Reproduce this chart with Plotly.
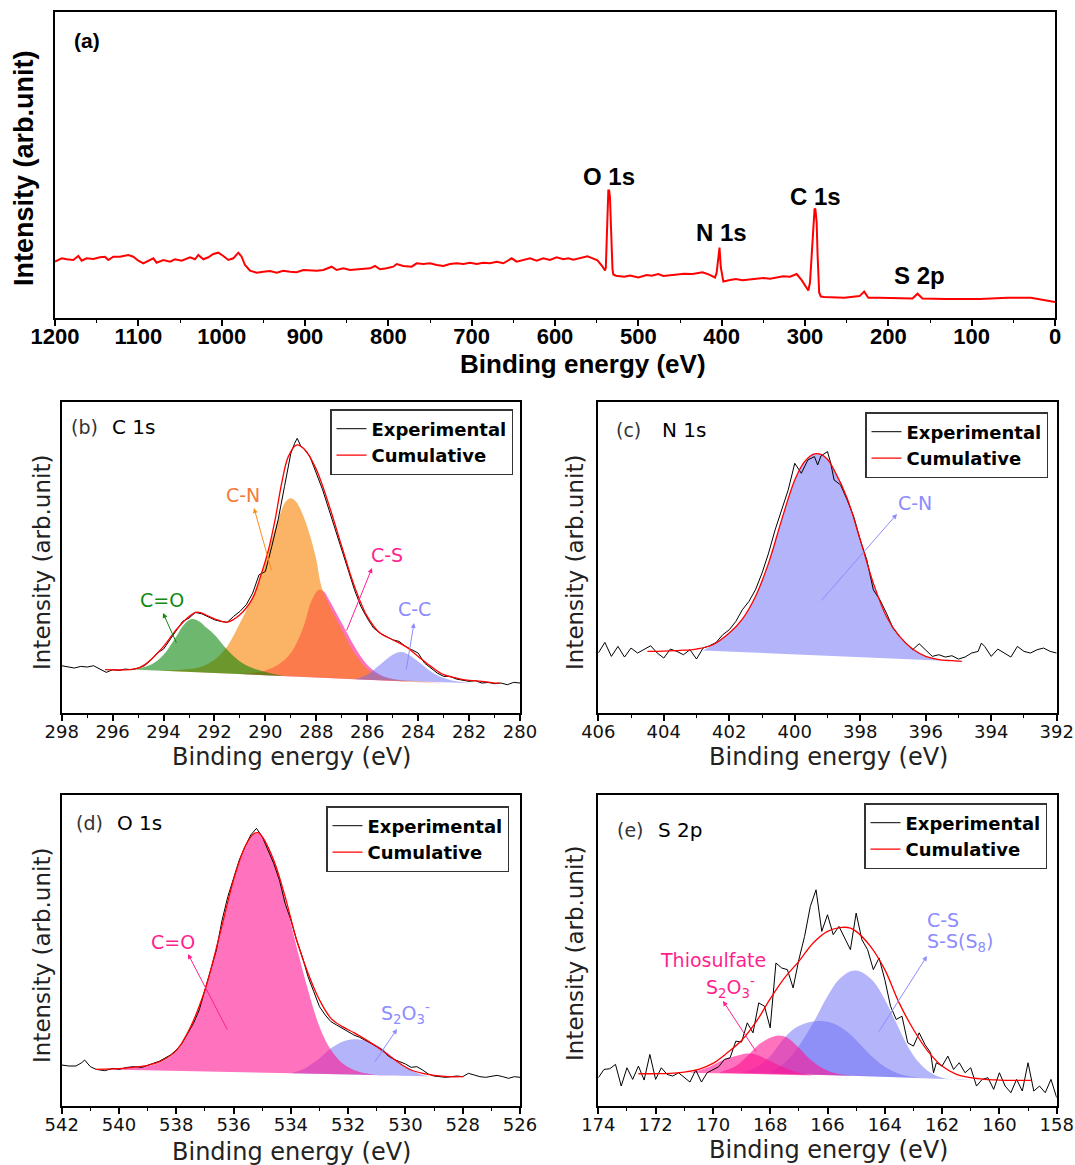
import plotly.graph_objects as go

W, H = 1075, 1165

# ---------------- Panel (a): survey spectrum ----------------
survey_be = [1200,1198,1192,1186,1178,1172,1168,1162,1154,1146,
             1140,1136,1130,1122,1112,1106,1100,1094,1088,1082,
             1078,1070,1062,1056,1048,1038,1032,1028,1022,1016,
             1010,1004,998,992,986,980,976,972,966,958,
             950,942,934,926,918,910,902,894,886,878,
             868,862,854,846,834,822,816,810,802,794,
             790,782,772,766,758,750,742,734,726,718,
             710,702,694,686,678,670,662,652,646,638,
             630,622,614,606,598,590,584,
             578,561,557,549,543,540,
             539,538,537,536,535,534,533,532,531,530,
             527,517,510,500,490,484,476,470,456,445,435,428,423,415,
             408,406,404,402.6,401,399.5,398,
             390,383,375,366,358,350,342,334,326,318,314,310,304,300,
             296,294,292,290,288.5,287.5,286,285,284,283,281,
             277,253,234.5,229,224,212,192,171,165,159,131,90,57,29,17,1,0]
survey_int = [56,56.8,59.2,58.2,57.5,61.5,56.8,59.2,58.5,60.2,
              60.8,57.5,60.8,60.8,62.5,60.8,56.8,54.2,56.8,59.2,
              54.8,57.5,55.8,58.2,56.8,60.2,58.2,62.5,58.2,60.2,
              63.5,64.8,61.5,57.5,59.2,64.8,60.8,52.5,46.8,44.8,
              45.8,46.5,44.8,46.8,45.8,45.2,47.5,46.8,46.8,47.5,
              50.8,47.5,49.2,47.5,48.2,49.2,51.5,48.2,49.2,50.8,
              53.5,51.5,50.8,54.2,53.5,54.2,52.5,51.5,53.5,54.2,
              53.5,54.8,53.5,54.8,54.2,55.8,54.2,59.2,55.8,57.5,
              59.2,56.8,59.2,57.5,60.2,58.2,59.2,
              57.8,61.2,59.9,57.1,51,46.9,
              50,75,110,127,127,120,95,65,48,43,
              41.8,40.8,42,40.1,42.5,41.8,43.5,41.5,42.9,43.8,43.5,44.5,45.2,42.9,
              40,45,62,70,50,40,36,
              37.5,38.4,37.2,38.1,39.2,39.5,38.8,40.1,41.2,40.8,42,43.5,37.4,31.6,
              27,35,65,100,109,108,95,65,40,25,21,
              20.4,19.7,21.4,25.9,19.7,19.7,19.7,19,23.8,19,18.4,18.4,19.7,19.7,18,15.6,15.5]
survey_ticks = [1200,1100,1000,900,800,700,600,500,400,300,200,100,0]

# ---------------- Panel (b): C 1s ----------------
c1s_be = [298.0,297.75,297.5,297.25,297.0,296.75,296.5,296.25,296.0,295.75,295.5,295.25,295.0,294.75,
          294.5,294.25,294.0,293.75,293.5,293.25,293.0,292.75,292.5,292.25,292.0,291.75,291.5,291.25,
          291.0,290.75,290.5,290.25,290.0,289.75,289.5,289.25,289.0,288.85,288.75,288.6,288.5,288.25,
          288.0,287.75,287.5,287.25,287.0,286.75,286.5,286.25,286.0,285.75,285.5,285.25,285.0,284.75,
          284.5,284.25,284.0,283.75,283.5,283.25,283.0,282.75,282.5,282.25,282.0,281.75,281.5,281.25,
          281.0,280.75,280.5,280.25,280.0]
c1s_exp = [142,138,135,140,138,142,132,122,130,128,132,130,135,142,158,180,192,220,245,275,
           285,302,298,290,280,275,272,290,305,325,360,415,425,500,580,680,780,810,825,800,
           795,770,720,670,610,550,490,430,370,320,285,255,240,230,220,215,200,190,180,150,
           135,120,110,110,102,98,95,97,90,92,88,90,85,92,90]
c1s_cum_be = [296.3,295.0,294.5,294.0,293.5,293.0,292.7,292.5,292.0,291.5,291.0,290.5,290.15,289.88,
              289.62,289.36,289.1,288.77,288.44,288.05,287.79,287.4,287.0,286.5,286.0,285.5,285.0,
              284.5,284.0,283.5,283.0,282.5,282.0,281.5,281.0,280.8]
c1s_cum = [130,135,160,200,250,290,303,300,283,273,295,345,420,490,580,690,770,805,790,740,
           690,600,500,380,290,240,220,200,170,140,115,105,98,95,90,90]
c1s_co_be = [295.2,294.5,294.0,293.5,293.2,292.9,292.6,292.3,292.0,291.5,291.0,290.5,290.0,289.3]
c1s_co = [131,145,175,230,265,282,275,255,235,190,155,135,123,111]
c1s_cn_be = [295.0,294.0,293.0,292.5,292.0,291.5,291.0,290.5,290.0,289.5,289.2,289.0,288.8,288.5,
             288.2,288.0,287.8,287.5,287.0,286.5,286.0,285.5,285.0,284.0,283.0]
c1s_cn = [130,128,132,140,160,200,270,350,460,580,635,645,635,590,520,460,380,325,250,180,132,112,102,95,90]
c1s_cs_be = [291.0,290.5,290.0,289.5,289.0,288.5,288.2,287.9,287.7,287.5,287.0,286.5,286.0,285.5,
             285.0,284.5,284.0,283.0]
c1s_cs = [117,120,128,145,180,260,335,370,365,340,270,200,145,115,102,96,92,89]
c1s_cc_be = [286.5,286.0,285.5,285.0,284.7,284.5,284.0,283.5,283.0,282.5,282.0,281.5,281.0]
c1s_cc = [101,115,145,175,183,180,155,125,105,95,90,88,87]

# ---------------- Panel (c): N 1s ----------------
n1s_be = [406.0,405.8,405.6,405.4,405.2,405.0,404.8,404.6,404.4,404.2,404.0,403.8,403.6,403.4,403.2,
          403.0,402.8,402.6,402.4,402.2,402.0,401.8,401.6,401.4,401.2,401.0,400.8,400.6,400.4,400.2,
          400.0,399.8,399.6,399.4,399.3,399.2,399.0,398.9,398.8,398.6,398.4,398.2,398.0,397.8,397.6,
          397.4,397.2,397.0,396.8,396.6,396.4,396.2,396.0,395.8,395.6,395.4,395.2,395.0,394.8,394.6,
          394.4,394.3,394.2,394.0,393.8,393.6,393.4,393.2,393.0,392.8,392.6,392.4,392.2,392.0]
n1s_exp = [180,212,170,200,168,195,180,192,202,180,165,192,185,175,190,162,195,202,212,235,
           250,275,310,335,370,420,480,550,610,670,750,720,760,770,745,772,785,750,700,685,
           640,590,520,460,370,340,300,255,230,210,190,208,190,170,175,168,172,162,168,180,
           185,210,200,170,192,180,168,200,185,180,190,195,185,180]
n1s_cum_be = [404.5,404.0,403.5,403.0,402.5,402.0,401.6,401.2,400.8,400.4,400.0,399.7,399.4,399.2,
              399.0,398.8,398.4,398.0,397.6,397.2,396.8,396.4,396.0,395.6,395.2,394.9]
n1s_cum = [185,186,188,192,205,240,282,350,450,580,700,755,778,777,762,730,645,520,390,290,
           230,192,170,160,157,155]
n1s_cn_be = [402.8,402.5,402.0,401.6,401.2,400.8,400.4,400.0,399.7,399.4,399.2,399.0,398.8,398.4,
             398.0,397.6,397.2,396.8,396.4,396.0,395.6,395.2,394.9]
n1s_cn = [188,205,240,282,350,450,580,700,755,778,777,762,730,645,520,390,290,230,192,170,160,157,155]

# ---------------- Panel (d): O 1s ----------------
o1s_be = [542.0,541.75,541.5,541.3,541.2,541.0,540.8,540.5,540.2,540.0,539.7,539.5,539.2,539.0,
          538.8,538.6,538.4,538.2,538.0,537.8,537.6,537.4,537.2,537.0,
          536.8,536.6,536.4,536.2,536.0,535.8,535.6,535.4,535.2,535.0,
          534.8,534.6,534.4,534.2,534.0,533.8,533.6,533.4,533.2,533.0,
          532.8,532.6,532.4,532.2,532.0,531.8,531.6,531.4,531.2,531.0,
          530.8,530.6,530.4,530.2,530.0,529.8,529.6,529.4,529.2,529.0,
          528.8,528.6,528.4,528.2,528.0,527.8,527.6,527.4,527.2,527.0,
          526.8,526.6,526.4,526.2,526.0]
o1s_exp = [123,120,120,130,138,118,110,106,113,110,116,118,116,123,
           128,134,143,153,168,188,218,248,288,348,
           408,468,558,628,683,738,778,813,833,808,
           768,728,678,608,558,498,448,388,343,298,
           273,253,243,233,223,213,206,198,188,178,
           168,150,140,133,126,116,118,108,96,90,
           88,86,88,90,88,98,93,88,86,90,
           92,88,83,88,86]
o1s_cum_be = [540.8,540.0,539.5,539.0,538.5,538.0,537.5,537.0,536.5,536.0,535.6,535.3,535.15,535.0,
              534.6,534.2,533.8,533.4,533.0,532.6,532.2,531.8,531.4,531.0,530.6,530.2,529.8,529.4,
              529.0,528.5,528.0]
o1s_cum = [110,112,116,122,136,166,238,348,508,678,778,816,820,808,738,628,498,398,318,263,
           238,220,200,178,153,128,108,98,92,88,88]
o1s_co_be = [540.8,540.0,539.0,538.5,538.0,537.5,537.0,536.5,536.0,535.6,535.3,535.15,535.0,534.6,
             534.2,533.8,533.4,533.0,532.6,532.2,531.8,531.4,531.0,530.5]
o1s_co = [110,112,120,133,163,233,343,503,673,773,813,818,808,738,618,478,348,238,168,128,108,98,93,92]
o1s_s2o3_be = [534.0,533.5,533.0,532.6,532.2,531.8,531.4,531.0,530.6,530.2,529.8,529.4,529.0,528.6]
o1s_s2o3 = [98,113,143,173,193,200,196,183,158,128,108,93,88,88]

# ---------------- Panel (e): S 2p ----------------
s2p_be = [174.0,173.8,173.6,173.4,173.2,173.0,172.8,172.6,172.4,172.2,
          172.0,171.8,171.6,171.4,171.2,171.0,170.8,170.6,170.4,170.2,
          170.0,169.8,169.6,169.4,169.2,169.0,168.8,168.6,168.4,168.2,
          168.0,167.8,167.6,167.4,167.2,167.0,166.8,166.6,166.4,166.2,
          166.0,165.8,165.6,165.4,165.2,165.0,164.8,164.6,164.4,164.2,
          164.0,163.8,163.6,163.4,163.2,163.0,162.8,162.6,162.4,162.3,
          162.2,162.0,161.8,161.6,161.4,161.2,161.0,160.8,160.6,160.4,
          160.2,160.0,159.8,159.6,159.4,159.2,159.0,158.8,158.6,158.4,158.2,158.0]
s2p_exp = [85,110,112,125,60,115,80,120,78,155,
           80,115,95,90,100,85,72,108,72,100,
           110,118,140,145,195,192,250,220,310,300,
           235,430,415,410,355,440,510,600,650,525,
           575,515,540,505,470,580,500,470,410,445,
           380,300,260,270,190,180,220,185,160,100,
           130,120,150,110,130,100,115,60,80,85,
           50,100,60,40,80,45,130,45,60,40,80,25]
s2p_cum_be = [172.6,172.0,171.5,171.0,170.5,170.0,169.5,169.0,168.5,168.0,167.5,167.0,166.5,166.0,
              165.5,165.2,165.0,164.5,164.0,163.5,163.0,162.5,162.0,161.5,161.0,160.5,160.0,159.5,158.9]
s2p_cum = [97,97,98,102,110,128,160,197,252,322,385,435,490,525,537,535,525,480,410,310,230,165,
           120,95,85,80,78,77,77]
s2p_p1_be = [170.8,170.2,169.6,169.2,168.8,168.5,168.0,167.5,167.0,166.5]
s2p_p1 = [100,115,140,150,158,155,135,115,100,92]
s2p_p2_be = [169.8,169.2,168.8,168.4,168.0,167.7,167.4,167.0,166.6,166.2,165.8,165.2,164.6]
s2p_p2 = [100,120,150,185,205,212,205,175,140,115,100,92,90]
s2p_p3_be = [169.0,168.4,168.0,167.6,167.2,166.8,166.4,166.0,165.6,165.2,164.8,164.4,164.0,163.6,163.2,162.8]
s2p_p3 = [100,120,150,195,230,248,255,253,240,215,180,145,118,100,90,85]
s2p_p4_be = [168.0,167.5,167.0,166.5,166.0,165.6,165.2,165.0,164.8,164.4,164.0,163.6,163.2,162.8,
             162.4,162.0,161.6,161.0]
s2p_p4 = [100,130,180,250,330,380,405,407,402,375,320,250,180,130,100,85,80,78]

# ---------------- styles ----------------
LAV = "rgba(105,105,245,0.5)"
PINK = "rgba(255,20,147,0.6)"
ORANGE = "rgba(248,130,0,0.6)"
GREEN = "rgba(0,128,0,0.57)"

fig = go.Figure()


def fill_peak(xs, ys, color, ax):
    fig.add_trace(go.Scatter(x=xs, y=ys, mode="lines", fill="toself", fillcolor=color,
                             line=dict(width=0, color=color, shape="spline"),
                             xaxis="x" + ax, yaxis="y" + ax, showlegend=False, hoverinfo="skip"))


def exp_cum(xe, ye, xc, yc, ax, leg):
    fig.add_trace(go.Scatter(x=xe, y=ye, mode="lines", name="Experimental",
                             line=dict(color="black", width=1), xaxis="x" + ax, yaxis="y" + ax,
                             legend=leg))
    fig.add_trace(go.Scatter(x=xc, y=yc, mode="lines", name="Cumulative",
                             line=dict(color="#ff0000", width=1.3, shape="spline"),
                             xaxis="x" + ax, yaxis="y" + ax, legend=leg))


# (a)
fig.add_trace(go.Scatter(x=survey_be, y=survey_int, mode="lines",
                         line=dict(color="#ff0000", width=2), showlegend=False,
                         xaxis="x", yaxis="y"))
# (b)
fill_peak(c1s_cs_be, c1s_cs, PINK, "2")
fill_peak(c1s_cn_be, c1s_cn, ORANGE, "2")
fill_peak(c1s_co_be, c1s_co, GREEN, "2")
fill_peak(c1s_cc_be, c1s_cc, LAV, "2")
exp_cum(c1s_be, c1s_exp, c1s_cum_be, c1s_cum, "2", "legend")
# (c)
fill_peak(n1s_cn_be, n1s_cn, LAV, "3")
exp_cum(n1s_be, n1s_exp, n1s_cum_be, n1s_cum, "3", "legend2")
# (d)
fill_peak(o1s_s2o3_be, o1s_s2o3, LAV, "4")
fill_peak(o1s_co_be, o1s_co, PINK, "4")
exp_cum(o1s_be, o1s_exp, o1s_cum_be, o1s_cum, "4", "legend3")
# (e)
fill_peak(s2p_p4_be, s2p_p4, LAV, "5")
fill_peak(s2p_p3_be, s2p_p3, LAV, "5")
fill_peak(s2p_p2_be, s2p_p2, PINK, "5")
fill_peak(s2p_p1_be, s2p_p1, PINK, "5")
exp_cum(s2p_be, s2p_exp, s2p_cum_be, s2p_cum, "5", "legend4")


def fx(px):
    return px / W


def fy(py):
    return 1 - py / H


BOLD_A = dict(family="Liberation Sans, Arial, sans-serif", size=22, color="black", weight="bold")
TICK_B = dict(family="DejaVu Sans, Verdana, sans-serif", size=18, color="#111111")


def xaxis(l, r, rng, dtick, mdtick, anchor, font, standoff):
    return dict(domain=[fx(l), fx(r)], range=rng, anchor=anchor, showline=True, mirror=True,
                linecolor="black", linewidth=2, ticks="outside", ticklen=6, tickwidth=1.5,
                tickcolor="black", tick0=0, dtick=dtick, showgrid=False, zeroline=False,
                tickfont=font, automargin=False, ticklabelstandoff=standoff,
                minor=dict(dtick=mdtick, ticks="outside", ticklen=3, tickwidth=1.2, tickcolor="black"))


def yaxis(t, b, top, anchor):
    return dict(domain=[fy(b), fy(t)], range=[0, top], anchor=anchor, showline=True, mirror=True,
                linecolor="black", linewidth=2, showticklabels=False, ticks="",
                showgrid=False, zeroline=False, automargin=False)


def legend(l, t):
    return dict(x=fx(l), y=fy(t), xanchor="left", yanchor="top", xref="paper", yref="paper",
                bordercolor="#333333", borderwidth=1.5, bgcolor="rgba(255,255,255,1)",
                font=dict(family="DejaVu Sans, Verdana, sans-serif", size=18, color="black",
                          weight="bold"),
                itemwidth=30, tracegroupgap=0)


fig.update_layout(
    width=W, height=H, margin=dict(l=0, r=0, t=0, b=0, autoexpand=False),
    paper_bgcolor="white", plot_bgcolor="white",
    xaxis=xaxis(55, 1055, [1200, 0], 100, 50, "y", BOLD_A, -8),
    yaxis=yaxis(12, 317.5, 305.5, "x"),
    xaxis2=xaxis(61.7, 520, [298, 280], 2, 1, "y2", TICK_B, -5),
    yaxis2=yaxis(402, 713, 934, "x2"),
    xaxis3=xaxis(598.3, 1056.7, [406, 392], 2, 1, "y3", TICK_B, -5),
    yaxis3=yaxis(402, 713, 934, "x3"),
    xaxis4=xaxis(61.7, 520, [542, 526], 2, 1, "y4", TICK_B, -5),
    yaxis4=yaxis(795, 1106, 933, "x4"),
    xaxis5=xaxis(598.3, 1056.7, [174, 158], 2, 1, "y5", TICK_B, -5),
    yaxis5=yaxis(795, 1106, 935, "x5"),
    legend=legend(330, 409),
    legend2=legend(865, 412),
    legend3=legend(326, 806),
    legend4=legend(864, 803),
)
fig.update_xaxes(tickvals=survey_ticks, selector=dict(anchor="y"))

ann = []


def text(px, py, s, size, color, family="DejaVu Sans, Verdana, sans-serif", weight="normal",
         angle=0, xanchor="center"):
    ann.append(dict(x=fx(px), y=fy(py), xref="paper", yref="paper", text=s, showarrow=False,
                    textangle=angle, xanchor=xanchor, yanchor="middle",
                    font=dict(family=family, size=size, color=color, weight=weight)))


def arrow(hx, hy, tx, ty, color):
    ann.append(dict(x=fx(hx), y=fy(hy), xref="paper", yref="paper", text="", showarrow=True,
                    ax=tx - hx, ay=ty - hy, arrowhead=2, arrowsize=1, arrowwidth=1,
                    arrowcolor=color, standoff=0))


LIB = "Liberation Sans, Arial, sans-serif"
DJ = "DejaVu Sans, Verdana, sans-serif"

# panel (a) texts
text(87, 40, "(a)", 21, "black", LIB, "bold")
text(609, 176, "O 1s", 24, "black", LIB, "bold")
text(721, 233, "N 1s", 24, "black", LIB, "bold")
text(815, 196, "C 1s", 24, "black", LIB, "bold")
text(919, 276, "S 2p", 24, "black", LIB, "bold")
text(583, 364, "Binding energy (eV)", 26, "black", LIB, "bold")
text(24, 168, "Intensity (arb.unit)", 27, "black", LIB, "bold", angle=-90)

# axis titles for (b)-(e)
for cx, cy in [(291, 757), (828, 757), (291, 1152), (828, 1150)]:
    text(cx, cy, "Binding energy (eV)", 24, "#222222", DJ)
for cx, cy in [(42, 563), (575, 563), (42, 956), (575, 954)]:
    text(cx, cy, "Intensity (arb.unit)", 23, "#222222", DJ, angle=-90)

# panel labels
text(69, 427, "(b)", 19, "#333333", DJ, xanchor="left")
text(110, 427, "C 1s", 20, "black", DJ, xanchor="left")
text(614, 430, "(c)", 19, "#333333", DJ, xanchor="left")
text(660, 430, "N 1s", 20, "black", DJ, xanchor="left")
text(74, 823, "(d)", 19, "#333333", DJ, xanchor="left")
text(115, 823, "O 1s", 20, "black", DJ, xanchor="left")
text(615, 830, "(e)", 19, "#333333", DJ, xanchor="left")
text(656, 830, "S 2p", 20, "black", DJ, xanchor="left")

# peak labels and arrows
C_OR, C_GR, C_PK, C_LV = "#f47b36", "#108a10", "#ff1f8f", "#8c8cff"
text(243, 495, "C-N", 19, C_OR)
arrow(254, 508, 272, 572, "#ff8c1a")
text(162, 600, "C=O", 19, C_GR)
arrow(163, 613, 177, 644, C_GR)
text(387, 555, "C-S", 19, C_PK)
arrow(372, 568, 346, 632, C_PK)
text(414, 609, "C-C", 19, C_LV)
arrow(414, 623, 406, 671, C_LV)

text(915, 503, "C-N", 19, C_LV)
arrow(897, 514, 820, 602, C_LV)

text(173, 942, "C=O", 19, C_PK)
arrow(188, 954, 228, 1031, C_PK)
text(405, 1013, "S<sub>2</sub>O<sub>3</sub><sup>-</sup>", 19, C_LV)
arrow(397, 1029, 374, 1063, C_LV)

text(713, 960, "Thiosulfate", 19, C_PK)
text(730, 988, "S<sub>2</sub>O<sub>3</sub><sup>-</sup>", 19, C_PK)
arrow(723, 1001, 757, 1053, C_PK)
text(925, 920, "C-S", 19, C_LV, xanchor="left")
text(925, 943, "S-S(S<sub>8</sub>)", 19, C_LV, xanchor="left")
arrow(927, 956, 878, 1033, C_LV)

fig.update_layout(annotations=ann)

fig.write_html("out.html")
